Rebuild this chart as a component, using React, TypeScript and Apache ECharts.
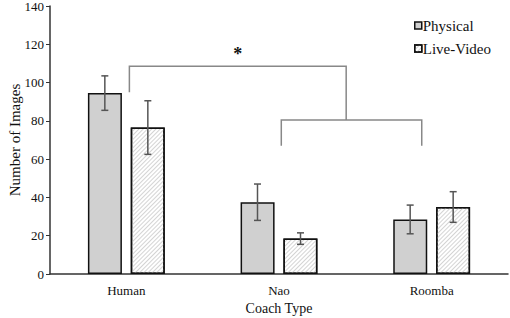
import React, { useEffect, useRef } from "react";
import * as echarts from "echarts";

const categories = ["Human", "Nao", "Roomba"];
const physical = [94.5, 37.5, 28.5];
const physicalErr = [9, 9.5, 7.5];
const liveVideo = [76.5, 18.5, 35];
const liveVideoErr = [14, 3, 8];
const yTicks = { min: 0, max: 140, interval: 20 };
// significance brackets: [x offset in category units from first category, value]
const bracketTop = [[0.02, 95], [0.02, 108.5], [1.44, 108.5], [1.44, 80.5]];
const bracketLow = [[1.015, 67], [1.015, 80.5], [1.935, 80.5], [1.935, 67]];
const starPos = [0.73, 115];

const FONT = "Liberation Serif";

export default function App() {
  const ref = useRef<HTMLDivElement>(null);
  useEffect(() => {
    const chart = echarts.init(ref.current!, null, { renderer: "svg" });
    const BAR_W = 34;
    const OFF = 21.5;
    const errSeries = (vals: number[], errs: number[], offset: number) => ({
      type: "custom",
      silent: true,
      z: 5,
      data: vals.map((v, i) => [i, v - errs[i], v + errs[i]]),
      renderItem: (params: any, api: any) => {
        const lo = api.coord([api.value(0), api.value(1)]);
        const hi = api.coord([api.value(0), api.value(2)]);
        const x = lo[0] + offset;
        const cap = 3.5;
        const style = { stroke: "#555", lineWidth: 1.5, fill: null };
        return {
          type: "group",
          children: [
            { type: "line", shape: { x1: x, y1: lo[1], x2: x, y2: hi[1] }, style },
            { type: "line", shape: { x1: x - cap, y1: lo[1], x2: x + cap, y2: lo[1] }, style },
            { type: "line", shape: { x1: x - cap, y1: hi[1], x2: x + cap, y2: hi[1] }, style },
          ],
        };
      },
    });
    const toPx = (api: any, p: number[]) => {
      const c0 = api.coord([0, p[1]]);
      const c1 = api.coord([1, p[1]]);
      return [c0[0] + (c1[0] - c0[0]) * p[0], c0[1]];
    };
    chart.setOption({
      animation: false,
      grid: { left: 50, right: 2, top: 6, bottom: 44, outerBoundsMode: "none", containLabel: false },
      legend: {
        orient: "vertical",
        left: 409,
        top: 13,
        itemWidth: 7,
        itemHeight: 7,
        itemGap: 8,
        icon: "rect",
        itemStyle: { borderColor: "#111", borderWidth: 1.5 },
        textStyle: { fontFamily: FONT, fontSize: 15, color: "#111", padding: [0, 0, 0, -4] },
        data: ["Physical", "Live-Video"],
      },
      xAxis: {
        type: "category",
        data: categories,
        name: "Coach Type",
        nameLocation: "middle",
        nameGap: 27,
        nameMoveOverlap: false,
        nameTextStyle: { fontFamily: FONT, fontSize: 14, color: "#111" },
        axisLine: { lineStyle: { color: "#333", width: 1.5 } },
        axisTick: { show: false },
        axisLabel: { fontFamily: FONT, fontSize: 13, color: "#111", margin: 10 },
      },
      yAxis: {
        type: "value",
        min: yTicks.min,
        max: yTicks.max,
        interval: yTicks.interval,
        name: "Number of Images",
        nameLocation: "middle",
        nameGap: 28,
        nameMoveOverlap: false,
        nameTextStyle: { fontFamily: FONT, fontSize: 15, color: "#111" },
        axisLine: { show: true, lineStyle: { color: "#333", width: 1.5 } },
        axisTick: { show: true, length: 4, lineStyle: { color: "#333" } },
        splitLine: { show: false },
        axisLabel: { fontFamily: FONT, fontSize: 13, color: "#111", margin: 6 },
      },
      series: [
        {
          name: "Physical",
          type: "bar",
          data: physical,
          barWidth: BAR_W,
          barGap: "26%",
          itemStyle: { color: "#d0d0d0", borderColor: "#111", borderWidth: 1.5 },
        },
        {
          name: "Live-Video",
          type: "bar",
          data: liveVideo,
          barWidth: BAR_W,
          itemStyle: {
            color: "#ffffff",
            borderColor: "#111",
            borderWidth: 1.5,
            decal: {
              symbol: "rect",
              color: "#d4d4d4",
              dashArrayX: [1, 0],
              dashArrayY: [1, 2],
              rotation: -Math.PI / 4,
            },
          },
        },
        errSeries(physical, physicalErr, -OFF),
        errSeries(liveVideo, liveVideoErr, OFF),
        {
          type: "custom",
          silent: true,
          z: 6,
          data: [[0, 0]],
          renderItem: (params: any, api: any) => {
            const style = { stroke: "#888", lineWidth: 1.5, fill: null };
            const s = toPx(api, starPos);
            return {
              type: "group",
              children: [
                { type: "polyline", shape: { points: bracketTop.map((p) => toPx(api, p)) }, style },
                { type: "polyline", shape: { points: bracketLow.map((p) => toPx(api, p)) }, style },
                {
                  type: "text",
                  x: s[0],
                  y: s[1],
                  style: {
                    text: "*",
                    fontFamily: FONT,
                    fontSize: 18,
                    fontWeight: "bold",
                    fill: "#111",
                    align: "center",
                    verticalAlign: "middle",
                  },
                },
              ],
            };
          },
        },
      ],
    });
    return () => chart.dispose();
  }, []);
  return <div ref={ref} style={{ width: 510, height: 318, position: "absolute", left: 0, top: 0 }} />;
}
